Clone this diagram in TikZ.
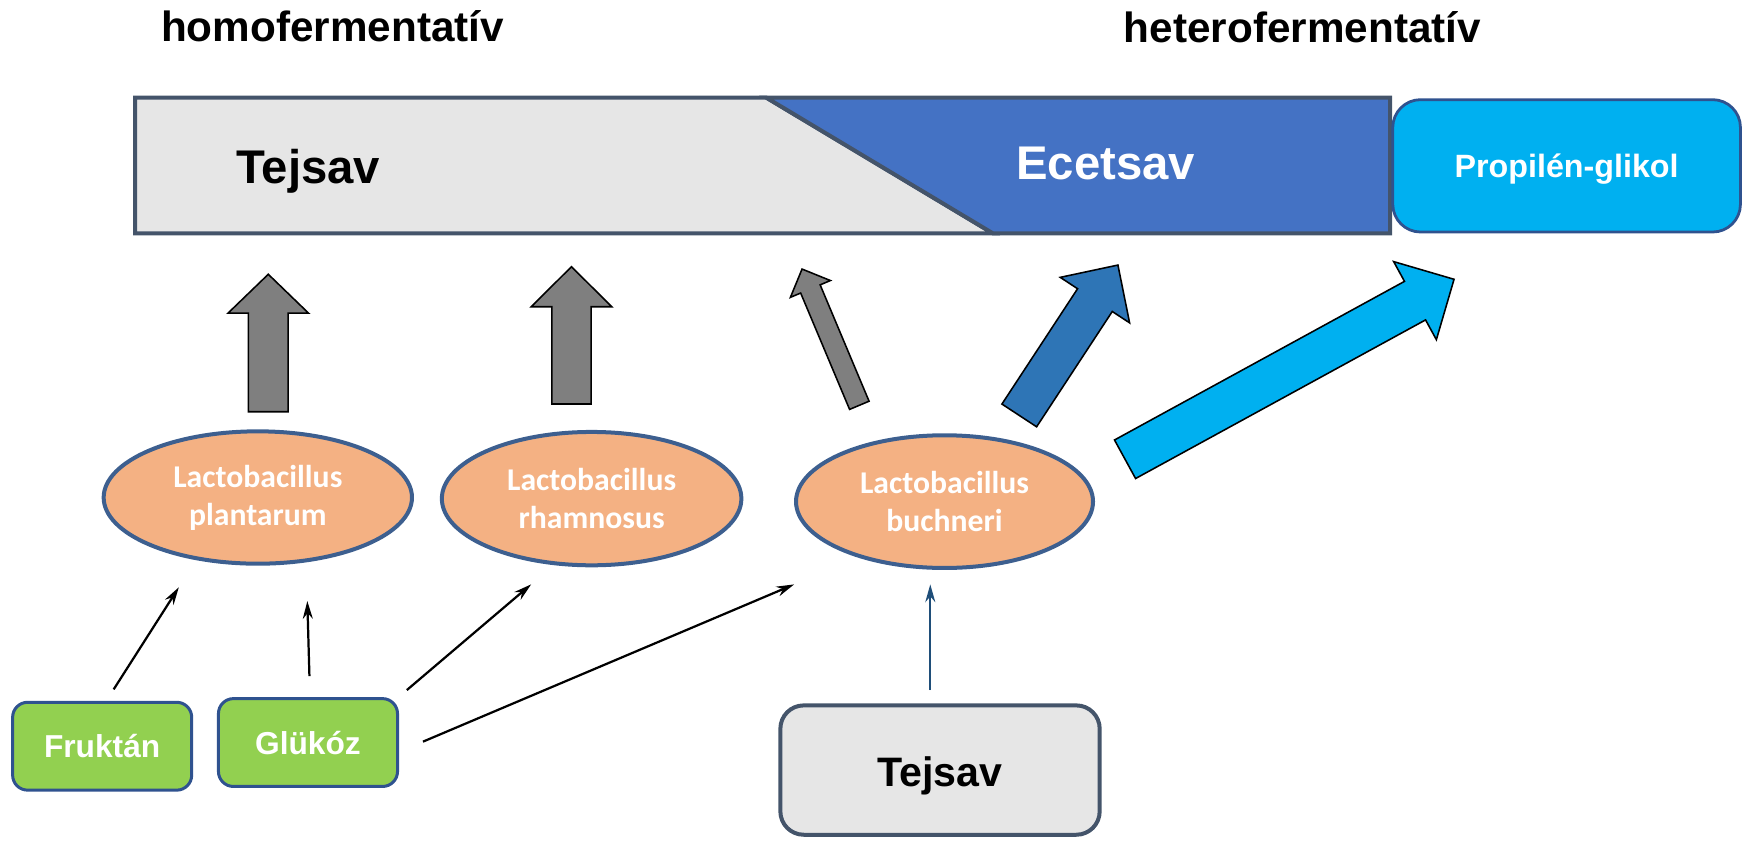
\documentclass[tikz,border=0pt]{standalone}
\usepackage{fontspec}
\setmainfont{Liberation Sans}
\newfontfamily\calib{Carlito}
\usetikzlibrary{calc,shapes.geometric,arrows.meta}
\definecolor{barborder}{HTML}{44546A}
\definecolor{lgray}{HTML}{E6E6E6}
\definecolor{ablue}{HTML}{4472C4}
\definecolor{acyan}{HTML}{00B0F0}
\definecolor{propborder}{HTML}{2F528F}
\definecolor{agray}{HTML}{7F7F7F}
\definecolor{adblue}{HTML}{2E75B6}
\definecolor{peach}{HTML}{F4B183}
\definecolor{ellborder}{HTML}{3D5F8F}
\definecolor{agreen}{HTML}{92D050}
\definecolor{thinblue}{HTML}{1F4E79}
\newcommand{\blockarr}[6]{%
  \coordinate (ab) at #1; \coordinate (at) at #2;
  \coordinate (ah) at ($(at)!#5!(ab)$);
  \filldraw[fill=#6, draw=black, line width=1.4pt, line join=miter]
    ($(ab)!#3!90:(at)$) -- ($(ah)!#3!90:(at)$) -- ($(ah)!#4!90:(at)$) -- (at)
    -- ($(ah)!#4!-90:(at)$) -- ($(ah)!#3!-90:(at)$) -- ($(ab)!#3!-90:(at)$) -- cycle;
}
\begin{document}
\begin{tikzpicture}[x=1pt,y=-1pt,
  title/.style={font=\fontsize{38}{45}\selectfont\bfseries, anchor=base, inner sep=0},
  bigtxt/.style={font=\fontsize{42.5}{50}\selectfont\bfseries, anchor=base, inner sep=0},
  barline/.style={draw=barborder, line width=3.6pt, line join=miter},
  bug/.style={ellipse, draw=ellborder, line width=3.6pt, fill=peach, text=white,
    font=\calib\bfseries\fontsize{28.5}{34}\selectfont, align=center, inner sep=0},
  sugar/.style={rectangle, rounded corners=13.5pt, draw=propborder, line width=2.7pt,
    fill=agreen, text=white, font=\fontsize{28.5}{34}\selectfont\bfseries,
    minimum width=161pt, minimum height=79pt, inner sep=0},
  thin/.style={line width=2pt, -{Stealth[length=16pt,width=9pt]}}
]
\useasboundingbox (0,0) rectangle (1568,755.25);

% titles
\node[title] (homo) at (299,37.5) {homofermentatív};
\node[title] (hetero) at (1171,38.4) {heterofermentatív};

% top bar
\draw[barline, fill=lgray] (121.5,87.8) -- (689,87.8) -- (892.7,209.8) -- (121.5,209.8) -- cycle;
\draw[barline, fill=ablue] (689,87.8) -- (1249.8,87.8) -- (1249.8,209.8) -- (892.7,209.8) -- cycle;
\node[bigtxt] (tejsavtop) at (277.1,164.8) {Tejsav};
\node[bigtxt, text=white] (ecetsav) at (994,161.2) {Ecetsav};
\node[rectangle, rounded corners=25pt, draw=propborder, line width=2.5pt, fill=acyan,
  minimum width=312.6pt, minimum height=119pt, inner sep=0, text=white,
  font=\fontsize{29}{35}\selectfont\bfseries, text height=21pt, text depth=0pt]
  (prop) at (1408.5,149.1) {Propilén-glikol};

% block arrows
\blockarr{(241.2,370.2)}{(241.2,246.6)}{17.9pt}{36.25pt}{35pt}{agray}
\blockarr{(513.8,363.2)}{(513.8,239.8)}{17.65pt}{36.25pt}{36pt}{agray}
\blockarr{(772.6,364.4)}{(721.1,241.9)}{9.5pt}{19.5pt}{19.4pt}{agray}
\blockarr{(916.4,373.5)}{(1005.1,238.3)}{18.65pt}{37.3pt}{37.7pt}{adblue}
\blockarr{(1011.5,412.9)}{(1307.3,251.1)}{19.75pt}{40pt}{40pt}{acyan}

% bacteria
\node[bug, minimum width=277.2pt, minimum height=119pt] (plant) at (231.8,447.3) {Lactobacillus\\plantarum};
\node[bug, minimum width=269.3pt, minimum height=119.9pt] (rham) at (531.9,448.3) {Lactobacillus\\rhamnosus};
\node[bug, minimum width=267pt, minimum height=119.3pt] (buch) at (849.2,451) {Lactobacillus\\buchneri};

% substrates
\node[sugar] (fruktan) at (91.85,670.9) {Fruktán};
\node[sugar] (glukoz) at (276.9,667.6) {Glükóz};
\node[rectangle, rounded corners=21pt, draw=barborder, line width=3.6pt, fill=lgray,
  minimum width=287.1pt, minimum height=116.3pt, inner sep=0,
  font=\fontsize{37}{44}\selectfont\bfseries, text height=30pt, text depth=0pt]
  (tejsavbot) at (845.15,692.35) {Tejsav};

% thin connectors
\coordinate (a1s) at (102.2,619.8); \coordinate (a1e) at (160.8,528);
\coordinate (a2s) at (278.2,607.8); \coordinate (a2e) at (276.3,540.4);
\coordinate (a3s) at (365.8,620.4); \coordinate (a3e) at (477.5,525.4);
\coordinate (a4s) at (380.3,666.8); \coordinate (a4e) at (714,525.4);
\coordinate (a5s) at (836.4,620.4); \coordinate (a5e) at (836.4,525.4);
\draw[thin] (a1s) -- (a1e);
\draw[thin] (a2s) -- (a2e);
\draw[thin] (a3s) -- (a3e);
\draw[thin] (a4s) -- (a4e);
\draw[thin, draw=thinblue, fill=thinblue] (a5s) -- (a5e);
\end{tikzpicture}
\end{document}
